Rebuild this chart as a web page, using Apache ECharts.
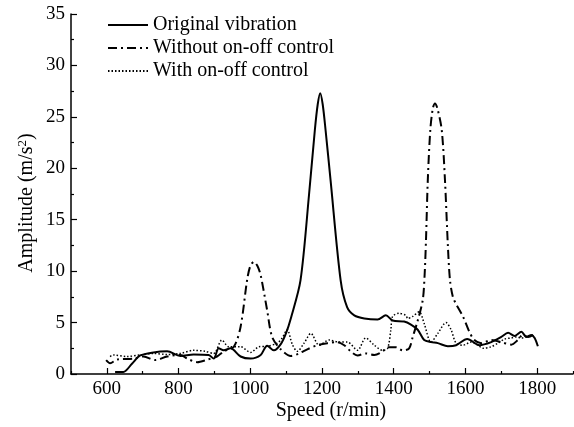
<!DOCTYPE html>
<html><head><meta charset="utf-8">
<script src="https://cdn.jsdelivr.net/npm/echarts@6/dist/echarts.min.js"></script>
<style>html,body{margin:0;padding:0;background:#fff}#c{width:574px;height:427px}</style>
</head><body><div id="c"></div>
<script>
// ---- data ----
const origSpeed = [623,646,670,693,730,768,805,842,884,898,912,926,945,973,1001,1029,1047,1066,1085,1100,1113,1140,1164,1180,1188,1195,1202,1210,1224,1252,1270,1290,1318,1355,1378,1397,1429,1448,1467,1485,1504,1523,1551,1574,1605,1639,1672,1700,1719,1737,1756,1770,1784,1793,1802];
const origAmp   = [0.2,0.2,1.0,1.8,2.1,2.2,1.75,1.9,1.85,1.5,2.5,2.3,2.5,1.7,1.5,1.85,2.75,2.3,2.9,4.0,5.4,9.1,17.5,23.7,26.2,27.3,26.2,23.7,18.8,9.1,6.5,5.7,5.4,5.3,5.7,5.2,5.1,4.8,4.3,3.3,3.1,3.0,2.7,2.8,3.4,2.8,3.1,3.6,4.0,3.7,4.1,3.6,3.8,3.5,2.7];

const withoutSpeed = [598,609,628,674,702,735,768,805,824,852,880,907,926,954,973,991,1000,1010,1020,1029,1047,1061,1085,1113,1136,1159,1187,1215,1243,1262,1280,1299,1322,1346,1369,1383,1406,1425,1443,1453,1467,1481,1486,1490,1495,1502,1509,1515,1522,1534,1543,1551,1557,1565,1574,1593,1611,1625,1644,1672,1700,1728,1746,1760,1775,1789];
const withoutAmp   = [1.35,1.05,1.4,1.5,1.7,1.35,1.7,1.85,1.5,1.15,1.4,1.7,2.2,2.65,4.6,9.1,10.5,10.9,10.5,9.6,6.2,3.6,2.4,1.75,2.0,2.4,2.8,3.0,3.1,2.8,2.2,1.8,2.0,1.85,2.2,2.6,2.6,2.3,2.5,3.6,5.2,7.2,9.5,13,18.8,23.7,25.8,26.3,25.8,23.7,18.8,12.5,9.1,7.5,6.8,5.6,4.1,3.3,3.0,3.3,3.1,2.85,3.3,3.8,3.6,3.8];

const withSpeed = [609,618,656,693,730,768,805,842,875,898,921,940,973,1001,1024,1047,1075,1089,1103,1117,1131,1150,1169,1192,1220,1248,1271,1299,1322,1346,1369,1383,1392,1397,1415,1434,1439,1453,1471,1485,1504,1523,1546,1560,1574,1593,1616,1635,1649,1672,1691,1709,1728,1742,1756,1770];
const withAmp   = [1.7,1.85,1.7,1.85,2.0,1.9,2.0,2.3,2.2,2.0,3.3,2.65,2.65,2.1,2.65,2.7,3.0,3.5,4.3,2.9,2.2,3.0,3.95,2.8,3.3,3.1,3.1,2.3,3.5,2.8,2.3,2.5,4.3,5.6,5.9,5.7,5.4,5.6,6.05,4.9,3.1,3.95,5.0,4.3,3.0,2.8,3.1,2.8,2.5,2.65,3.0,3.4,3.5,3.6,3.5,3.6];

const xLabels = [600,800,1000,1200,1400,1600,1800];

const names = ['Original vibration','Without on-off control','With on-off control'];
// ---------------

const zip = (a,b)=>a.map((v,i)=>[v,b[i]]);
const FONT = 'Liberation Serif';
const chart = echarts.init(document.getElementById('c'));
chart.setOption({
  animation:false,
  backgroundColor:'#fff',
  grid:{left:71,right:1,top:14,bottom:53,containLabel:false},
  legend:{
    orient:'vertical', left:102, top:9, itemWidth:40, itemHeight:10, itemGap:1,
    itemStyle:{opacity:0},
    textStyle:{fontFamily:FONT,fontSize:20,color:'#000',lineHeight:22},
    data:names
  },
  xAxis:[{
    type:'value', min:500, max:1900, interval:100,
    axisLine:{lineStyle:{color:'#000',width:1.5}},
    axisTick:{inside:true,length:6,lineStyle:{color:'#000',width:1.2},customValues:xLabels},
    axisLabel:{fontFamily:FONT,fontSize:19,color:'#000',margin:6,customValues:xLabels,formatter:v=>String(v)},
    splitLine:{show:false}
  },{
    type:'value', min:500, max:1900, interval:200, position:'bottom',
    axisLine:{show:false},
    axisTick:{show:true,inside:true,length:3,lineStyle:{color:'#000',width:1.2}},
    axisLabel:{show:false},
    splitLine:{show:false}
  }],
  yAxis:{
    type:'value', min:0, max:35, interval:5,
    axisLine:{show:true,lineStyle:{color:'#000',width:1.5}},
    axisTick:{show:true,inside:true,length:6,lineStyle:{color:'#000',width:1.2}},
    minorTick:{show:true,splitNumber:2,length:3,lineStyle:{color:'#000',width:1.2}},
    axisLabel:{fontFamily:FONT,fontSize:19,color:'#000',margin:6},
    splitLine:{show:false}
  },
  graphic:[
    {type:'text',x:27,y:203,rotation:Math.PI/2,
     style:{text:'{a|Amplitude (m/s}{s|2}{a|)}',align:'center',verticalAlign:'middle',
       rich:{a:{fontFamily:FONT,fontSize:20,fill:'#000',color:'#000'},
             s:{fontFamily:FONT,fontSize:13,fill:'#000',color:'#000',padding:[0,0,9,0]}}}},
    {type:'text',x:331,y:411,
     style:{text:'Speed (r/min)',fontFamily:FONT,fontSize:20,fill:'#000',align:'center',verticalAlign:'middle'}}
  ],
  series:[
    {name:names[0],type:'line',data:zip(origSpeed,origAmp),symbol:'none',smooth:0.3,
     lineStyle:{color:'#000',width:2,type:'solid'},itemStyle:{color:'#000'}},
    {name:names[1],type:'line',data:zip(withoutSpeed,withoutAmp),symbol:'none',smooth:0.3,
     lineStyle:{color:'#000',width:2,type:[9,4,2,4]},itemStyle:{color:'#000'}},
    {name:names[2],type:'line',data:zip(withSpeed,withAmp),symbol:'none',smooth:0.3,
     lineStyle:{color:'#000',width:1.5,type:[1.5,2]},itemStyle:{color:'#000'}}
  ]
});
</script></body></html>
